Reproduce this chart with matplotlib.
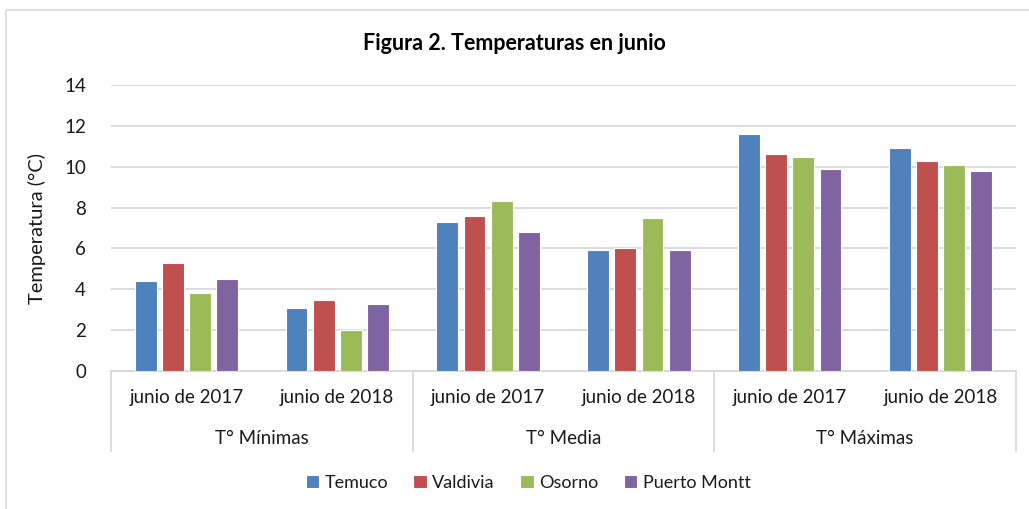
import matplotlib
matplotlib.use('Agg')
import numpy as np
import matplotlib.pyplot as plt
from matplotlib.patches import Rectangle

# ── data ──────────────────────────────────────────────────────────────────────
groups = ["T° Mínimas", "T° Media", "T° Máximas"]
periods = ["junio de 2017", "junio de 2018"]
cities = ["Temuco", "Valdivia", "Osorno", "Puerto Montt"]

temuco = [4.4, 3.1, 7.3, 5.9, 11.6, 10.9]
valdivia = [5.3, 3.5, 7.6, 6.0, 10.6, 10.3]
osorno = [3.8, 2.0, 8.3, 7.5, 10.5, 10.1]
puerto_montt = [4.5, 3.3, 6.8, 5.9, 9.9, 9.8]

colors = ["#4F81BD", "#C0504D", "#9BBB59", "#8064A2"]
txt = "#1a1a1a"

plt.rcParams['font.family'] = ['Lato', 'DejaVu Sans']

# ── figure ────────────────────────────────────────────────────────────────────
fig = plt.figure(figsize=(10.29, 5.09), dpi=100)
W, H = 1029, 509
fig.patches.append(Rectangle((6 / W, -0.1), 1.2, 1 - 10 / H + 0.1,
                             transform=fig.transFigure, fill=False,
                             edgecolor="#D9D9D9", linewidth=1.2))

ax = fig.add_axes([111 / W, 1 - 371 / H, (1016 - 111) / W, (371 - 85) / H])

series = [temuco, valdivia, osorno, puerto_montt]
x = np.arange(6) + 0.5
step, width = 0.18, 0.145
for i, (vals, name) in enumerate(zip(series, cities)):
    ax.bar(x + (i - 1.5) * step, vals, width, color=colors[i], label=name,
           edgecolor="white", linewidth=0.8, zorder=3)

ax.set_xlim(0, 6)
ax.set_ylim(0, 14)
ax.set_yticks(range(0, 15, 2))
ax.grid(axis="y", color="#D9D9D9", linewidth=1.3, zorder=0)
for s in ["top", "right", "left"]:
    ax.spines[s].set_visible(False)
ax.spines["bottom"].set_color("#D9D9D9")
ax.spines["bottom"].set_linewidth(1.3)
ax.tick_params(axis="y", length=0, pad=18, labelsize=13.5, labelcolor=txt)
ax.set_xticks(x)
ax.set_xticklabels(periods * 3)
ax.tick_params(axis="x", length=0, pad=13, labelsize=13.5, labelcolor=txt)
ax.set_ylabel("Temperatura (°C)", fontsize=14.5, color=txt, labelpad=13)

# group labels and separators
trans = ax.get_xaxis_transform()
for k, g in enumerate(groups):
    ax.text(2 * k + 1, -0.235, g, transform=trans, ha="center", va="center",
            fontsize=13.5, color=txt)
for xs in [0, 2, 4, 6]:
    ax.plot([xs, xs], [0, -0.28], transform=trans, color="#D9D9D9",
            linewidth=1.3, clip_on=False)

fig.text(0.5, 1 - 44 / H, "Figura 2. Temperaturas en junio", ha="center",
         va="center", fontsize=15.5, fontweight="bold", color="black")

fig.legend(loc="center", bbox_to_anchor=(528 / W, 1 - 483 / H), ncol=4,
           frameon=False, fontsize=13, handlelength=0.75, handleheight=0.75,
           handletextpad=0.3, columnspacing=1.4, labelcolor=txt)

fig.savefig("out.png", dpi=100)
